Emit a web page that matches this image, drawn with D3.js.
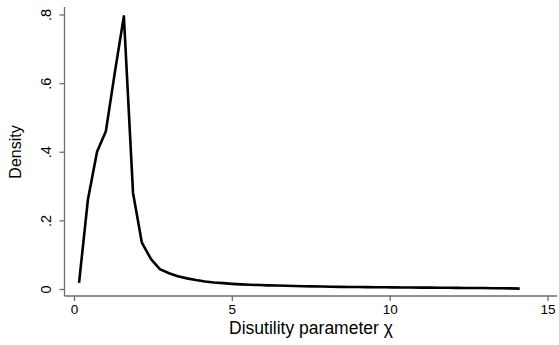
<!DOCTYPE html>
<html>
<head>
<meta charset="utf-8">
<script src="https://cdn.jsdelivr.net/npm/d3@7"></script>
<style>
  body { margin: 0; background: #fff; }
  text { font-family: "Liberation Sans", Arial, sans-serif; fill: #000; }
</style>
</head>
<body>
<div class="content"></div>
<script>
// density estimate of chi
const chi = [0.16, 0.44, 0.73, 1.01, 1.30, 1.58, 1.87, 2.15, 2.44, 2.72,
  3.01, 3.29, 3.58, 3.86, 4.15, 4.43, 4.72, 5.00, 5.29, 5.57,
  5.86, 6.14, 6.43, 6.71, 7.00, 7.28, 7.57, 7.85, 8.14, 8.42,
  8.71, 8.99, 9.28, 9.56, 9.85, 10.13, 10.42, 10.70, 10.99, 11.27,
  11.56, 11.84, 12.13, 12.41, 12.70, 12.98, 13.27, 13.55, 13.84, 14.12]
const density = [0.018, 0.26, 0.40, 0.46, 0.635, 0.795, 0.28, 0.135, 0.087, 0.058,
  0.046, 0.037, 0.031, 0.026, 0.022, 0.019, 0.017, 0.015, 0.0135, 0.0125,
  0.0115, 0.0107, 0.010, 0.0093, 0.0087, 0.0081, 0.0076, 0.0071, 0.0067, 0.0063,
  0.0060, 0.0057, 0.0054, 0.0051, 0.0049, 0.0047, 0.0045, 0.0043, 0.0041, 0.0039,
  0.0037, 0.0035, 0.0033, 0.0031, 0.0029, 0.0027, 0.0024, 0.0021, 0.0017, 0.0012]
const xTicks = [0, 5, 10, 15]
const yTicks = [0, 0.2, 0.4, 0.6, 0.8]
const yTickLabels = ['0', '.2', '.4', '.6', '.8']

const width = 559
const height = 345

const x = d3.scaleLinear().domain([0, 15]).range([74, 547.5])
const y = d3.scaleLinear().domain([0, 0.8]).range([289, 14.5])

const svg = d3.select('div.content')
  .append('svg')
  .attr('width', width)
  .attr('height', height)

const axisColor = '#6e6e6e'

// x axis
const xAxis = svg.append('g')
  .attr('transform', 'translate(0,296)')
  .call(d3.axisBottom(x).tickValues(xTicks).tickSize(5).tickPadding(3).tickFormat(d3.format('d')))
xAxis.select('.domain').remove()
xAxis.append('line')
  .attr('x1', 64.5).attr('x2', 557)
  .attr('stroke', axisColor).attr('stroke-width', 1.3)
xAxis.selectAll('.tick line').attr('stroke', axisColor).attr('stroke-width', 1.3)
xAxis.selectAll('.tick text').attr('font-size', 13.5).attr('fill', '#000')
  .attr('font-family', '"Liberation Sans", Arial, sans-serif')

// y axis
const yAxis = svg.append('g')
  .attr('transform', 'translate(64.5,0)')
  .call(d3.axisLeft(y).tickValues(yTicks).tickSize(5).tickFormat((d, i) => yTickLabels[i]))
yAxis.select('.domain').remove()
yAxis.append('line')
  .attr('y1', 7).attr('y2', 296)
  .attr('stroke', axisColor).attr('stroke-width', 1.3)
yAxis.selectAll('.tick line').attr('stroke', axisColor).attr('stroke-width', 1.3)
yAxis.selectAll('.tick text')
  .attr('font-size', 14.5).attr('fill', '#000')
  .attr('font-family', '"Liberation Sans", Arial, sans-serif')
  .attr('x', null).attr('dy', null)
  .attr('text-anchor', 'middle')
  .attr('transform', 'translate(-14,0) rotate(-90)')

// axis titles
svg.append('text')
  .attr('x', 311).attr('y', 334)
  .attr('text-anchor', 'middle')
  .attr('font-size', 17.5)
  .text('Disutility parameter χ')
svg.append('text')
  .attr('transform', 'translate(21,152) rotate(-90)')
  .attr('text-anchor', 'middle')
  .attr('font-size', 16)
  .text('Density')

// density line
const line = d3.line()
  .x((d, i) => x(chi[i]))
  .y(d => y(d))
svg.append('path')
  .datum(density)
  .attr('d', line)
  .attr('fill', 'none')
  .attr('stroke', '#000')
  .attr('stroke-width', 2.6)
  .attr('stroke-linejoin', 'round')
</script>
</body>
</html>
